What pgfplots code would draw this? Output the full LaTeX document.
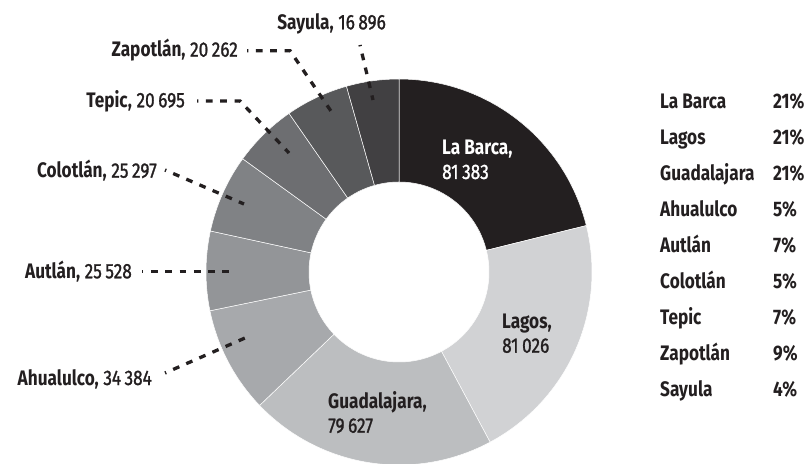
\documentclass[border=0pt]{standalone}
\usepackage{fontspec}
\setmainfont{Fira Sans}[FakeStretch=0.82]
\newfontfamily\numfont{Fira Sans}[FakeStretch=0.82,FakeBold=1.2]
\usepackage{pgfplots}
\pgfplotsset{compat=1.18}
\definecolor{ink}{HTML}{231F20}
\definecolor{cLaBarca}{HTML}{231F20}
\definecolor{cLagos}{HTML}{D1D2D4}
\definecolor{cGuad}{HTML}{BCBEC0}
\definecolor{cAhua}{HTML}{A7A9AC}
\definecolor{cAutlan}{HTML}{939598}
\definecolor{cColot}{HTML}{808285}
\definecolor{cTepic}{HTML}{6D6E71}
\definecolor{cZapot}{HTML}{58595B}
\definecolor{cSayula}{HTML}{414042}
\def\cx{399}\def\cy{191}\def\Ro{193}\def\Ri{90}
\edef\total{\fpeval{81383+81026+79627+34384+25528+25297+20695+20262+16896}}
\gdef\cum{0}
\newcommand\donutslice[2]{%
  \edef\aA{\fpeval{90-360*\cum/\total}}%
  \xdef\cum{\fpeval{\cum+#1}}%
  \edef\aB{\fpeval{90-360*\cum/\total}}%
  \edef\temp{\noexpand\addplot[fill=#2,draw=white,line width=0.5pt,samples at={0,1,...,40,80,81,...,120}]
    ({\cx+((\noexpand\x<60)?\Ro:\Ri)*cos(((\noexpand\x<60)?(\aA+(\aB-\aA)*\noexpand\x/40):(\aB+(\aA-\aB)*(\noexpand\x-80)/40)))},
     {\cy+((\noexpand\x<60)?\Ro:\Ri)*sin(((\noexpand\x<60)?(\aA+(\aB-\aA)*\noexpand\x/40):(\aB+(\aA-\aB)*(\noexpand\x-80)/40)))}) -- cycle;}%
  \temp}
\newcommand\lab[2]{\textbf{#1,} {\numfont #2}}
\begin{document}
\begin{tikzpicture}
\begin{axis}[width=810pt,height=463pt,scale only axis,xmin=0,xmax=810,ymin=0,ymax=463,
  hide axis,clip=true]
\addplot[draw=none] coordinates {(0,0) (810,463)};
\donutslice{81383}{cLaBarca}
\donutslice{81026}{cLagos}
\donutslice{79627}{cGuad}
\donutslice{34384}{cAhua}
\donutslice{25528}{cAutlan}
\donutslice{25297}{cColot}
\donutslice{20695}{cTepic}
\donutslice{20262}{cZapot}
\donutslice{16896}{cSayula}
% leader lines
\pgfplotsset{leader/.style={ink,line width=3.3pt,dash pattern=on 6.7pt off 7.6pt,dash phase=5.4pt}}
\addplot[leader] coordinates {(360,418) (373,363)};
\addplot[leader] coordinates {(247,412.3) (290,412.3) (335,346)};
\addplot[leader] coordinates {(197,362) (240,362) (289,310)};
\addplot[leader] coordinates {(165,293) (244,259)};
\addplot[leader] coordinates {(142,191.3) (230,191.3)};
\addplot[leader] coordinates {(165,90) (245,125)};
% outer labels
\tikzset{lbl/.style={inner sep=0pt,text=ink,font=\fontsize{21}{25}\selectfont}}
\node[lbl,anchor=base east] at (axis cs:386,433.7) {\lab{Sayula}{16\,896}};
\node[lbl,anchor=base east] at (axis cs:238,406.3) {\lab{Zapotlán}{20\,262}};
\node[lbl,anchor=base east] at (axis cs:185,355.7) {\lab{Tepic}{20\,695}};
\node[lbl,anchor=base east] at (axis cs:157,285.3) {\lab{Colotlán}{25\,297}};
\node[lbl,anchor=base east] at (axis cs:132,184.7) {\lab{Autlán}{25\,528}};
\node[lbl,anchor=base east] at (axis cs:152,78) {\lab{Ahualulco}{34\,384}};
% inner labels
\node[lbl,text=white,anchor=base west] at (axis cs:442,308.7) {\textbf{La Barca,}};
\node[lbl,text=white,anchor=base west] at (axis cs:442,284) {\numfont 81\,383};
\node[lbl,anchor=base west] at (axis cs:502,134.7) {\textbf{Lagos,}};
\node[lbl,anchor=base west] at (axis cs:502,110.3) {\numfont 81\,026};
\node[lbl,anchor=base west] at (axis cs:328,54.7) {\textbf{Guadalajara,}};
\node[lbl,anchor=base west] at (axis cs:328,30.3) {\numfont 79\,627};
% legend table
\node[lbl,anchor=base west] at (axis cs:660,354.7) {\textbf{La Barca}};
\node[lbl,anchor=base west] at (axis cs:773,354.7) {\textbf{21\%}};
\node[lbl,anchor=base west] at (axis cs:660,318.7) {\textbf{Lagos}};
\node[lbl,anchor=base west] at (axis cs:773,318.7) {\textbf{21\%}};
\node[lbl,anchor=base west] at (axis cs:660,282.7) {\textbf{Guadalajara}};
\node[lbl,anchor=base west] at (axis cs:773,282.7) {\textbf{21\%}};
\node[lbl,anchor=base west] at (axis cs:660,246.7) {\textbf{Ahualulco}};
\node[lbl,anchor=base west] at (axis cs:773,246.7) {\textbf{5\%}};
\node[lbl,anchor=base west] at (axis cs:660,210.7) {\textbf{Autlán}};
\node[lbl,anchor=base west] at (axis cs:773,210.7) {\textbf{7\%}};
\node[lbl,anchor=base west] at (axis cs:660,174.7) {\textbf{Colotlán}};
\node[lbl,anchor=base west] at (axis cs:773,174.7) {\textbf{5\%}};
\node[lbl,anchor=base west] at (axis cs:660,138.7) {\textbf{Tepic}};
\node[lbl,anchor=base west] at (axis cs:773,138.7) {\textbf{7\%}};
\node[lbl,anchor=base west] at (axis cs:660,102.7) {\textbf{Zapotlán}};
\node[lbl,anchor=base west] at (axis cs:773,102.7) {\textbf{9\%}};
\node[lbl,anchor=base west] at (axis cs:660,66.7) {\textbf{Sayula}};
\node[lbl,anchor=base west] at (axis cs:773,66.7) {\textbf{4\%}};
\end{axis}
\end{tikzpicture}
\end{document}
